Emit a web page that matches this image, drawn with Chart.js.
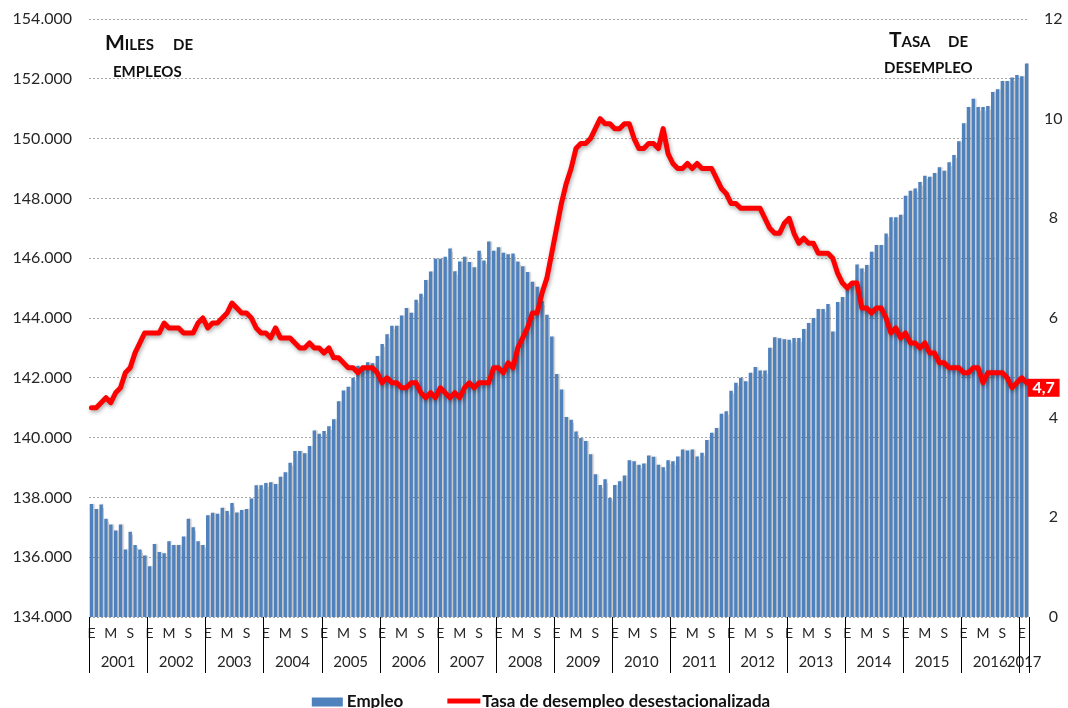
<!DOCTYPE html>
<html lang="es">
<head>
<meta charset="UTF-8">
<title>Empleo y tasa de desempleo</title>
<script src="https://cdn.jsdelivr.net/npm/chart.js"></script>
<style>
  html, body { margin: 0; padding: 0; background: #fff; }
  #wrap { width: 1068px; height: 708px; }
</style>
</head>
<body>
<div id="wrap"><canvas id="chart" width="1068" height="708"></canvas></div>
<script>
// años y marcas de mes (E = enero, M = mayo, S = septiembre)
const years = ['2001','2002','2003','2004','2005','2006','2007','2008','2009',
               '2010','2011','2012','2013','2014','2015','2016','2017'];
const monthMarks = ['E','','','','M','','','','S','','',''];

// Empleo, miles (ene 2001 - feb 2017)
const empleo = [
  137776,137610,137765,137284,137094,136893,137094,136255,136849,136412,136255,136054,
  135696,136445,136177,136132,136535,136412,136412,136691,137284,137004,136535,136412,
  137407,137485,137452,137653,137541,137810,137497,137575,137610,137966,138403,138403,
  138481,138503,138447,138694,138839,139163,139555,139555,139477,139723,140237,140126,
  140222,140378,140614,141218,141577,141700,142002,142405,142405,142517,142484,142730,
  143133,143458,143738,143738,144085,144331,144175,144611,144813,145272,145552,145978,
  145978,146045,146325,145563,145888,146045,145877,145698,146246,145922,146560,146246,
  146370,146179,146134,146157,145888,145731,145541,145216,145048,144567,144107,143380,
  142123,141608,140690,140600,140208,139984,139884,139447,138775,138417,138607,137980,
  138417,138540,138730,139245,139211,139088,139133,139402,139357,139088,139010,139245,
  139211,139368,139604,139570,139604,139368,139492,139917,140163,140320,140801,140880,
  141563,141832,142000,141888,142168,142358,142246,142246,143008,143355,143321,143288,
  143272,143328,143328,143630,143832,144000,144302,144302,144470,143552,144538,144705,
  145008,145198,145792,145658,145769,146217,146441,146441,146822,147371,147371,147449,
  148087,148255,148334,148547,148759,148726,148849,149039,148927,149207,149454,149913,
  150517,151055,151335,151055,151055,151089,151559,151649,151929,151929,152041,152130,
  152085,152511
];

// Tasa de desempleo desestacionalizada, %
const tasa = [
  4.2,4.2,4.3,4.4,4.3,4.5,4.6,4.9,5.0,5.3,5.5,5.7,
  5.7,5.7,5.7,5.9,5.8,5.8,5.8,5.7,5.7,5.7,5.9,6.0,
  5.8,5.9,5.9,6.0,6.1,6.3,6.2,6.1,6.1,6.0,5.8,5.7,
  5.7,5.6,5.8,5.6,5.6,5.6,5.5,5.4,5.4,5.5,5.4,5.4,
  5.3,5.4,5.2,5.2,5.1,5.0,5.0,4.9,5.0,5.0,5.0,4.9,
  4.7,4.8,4.7,4.7,4.6,4.6,4.7,4.7,4.5,4.4,4.5,4.4,
  4.6,4.5,4.4,4.5,4.4,4.6,4.7,4.6,4.7,4.7,4.7,5.0,
  5.0,4.9,5.1,5.0,5.4,5.6,5.8,6.1,6.1,6.5,6.8,7.3,
  7.8,8.3,8.7,9.0,9.4,9.5,9.5,9.6,9.8,10.0,9.9,9.9,
  9.8,9.8,9.9,9.9,9.6,9.4,9.4,9.5,9.5,9.4,9.8,9.3,
  9.1,9.0,9.0,9.1,9.0,9.1,9.0,9.0,9.0,8.8,8.6,8.5,
  8.3,8.3,8.2,8.2,8.2,8.2,8.2,8.0,7.8,7.7,7.7,7.9,
  8.0,7.7,7.5,7.6,7.5,7.5,7.3,7.3,7.3,7.2,6.9,6.7,
  6.6,6.7,6.7,6.2,6.2,6.1,6.2,6.2,6.0,5.7,5.8,5.6,
  5.7,5.5,5.5,5.4,5.5,5.3,5.3,5.1,5.1,5.0,5.0,5.0,
  4.9,4.9,5.0,5.0,4.7,4.9,4.9,4.9,4.9,4.8,4.6,4.7,
  4.8,4.7
];

const FONT = 'Lato, "Open Sans", sans-serif';
const BLUE = '#4F81BD';
const RED = '#FF0000';

const labels = empleo.map((v, i) => years[Math.floor(i / 12)] + '-' + (i % 12 + 1));

function miles(v) {
  return String(v).replace(/\B(?=(\d{3})+(?!\d))/g, '.');
}

const extras = {
  id: 'extras',
  beforeDatasetDraw(chart, args) {
    const ctx = chart.ctx;
    ctx.save();
    if (args.index === 1) {
      ctx.shadowColor = 'rgba(0,0,0,0.35)';
      ctx.shadowBlur = 4;
      ctx.shadowOffsetX = 1;
      ctx.shadowOffsetY = 2;
    } else {
      ctx.shadowColor = 'rgba(0,0,0,0.22)';
      ctx.shadowBlur = 1.5;
      ctx.shadowOffsetX = 1.5;
    }
  },
  afterDatasetDraw(chart) {
    chart.ctx.restore();
  },
  afterDraw(chart) {
    const ctx = chart.ctx;
    const ca = chart.chartArea;
    const xs = chart.scales.x;
    const n = empleo.length;
    const step = xs.getPixelForValue(1) - xs.getPixelForValue(0);

    // separadores y etiquetas de año
    ctx.save();
    ctx.strokeStyle = '#000';
    ctx.lineWidth = 1;
    ctx.fillStyle = '#262626';
    ctx.font = '15px ' + FONT;
    ctx.textAlign = 'center';
    ctx.textBaseline = 'alphabetic';
    years.forEach((y, k) => {
      const a = xs.getPixelForValue(k * 12) - step / 2;
      const last = Math.min(k * 12 + 11, n - 1);
      const b = xs.getPixelForValue(last) + step / 2;
      ctx.beginPath();
      ctx.moveTo(Math.round(a) + 0.5, ca.bottom);
      ctx.lineTo(Math.round(a) + 0.5, ca.bottom + 56);
      ctx.stroke();
      ctx.fillText(y, (a + b) / 2, ca.bottom + 50);
    });
    const end = xs.getPixelForValue(n - 1) + step / 2;
    ctx.beginPath();
    ctx.moveTo(Math.round(end) + 0.5, ca.bottom);
    ctx.lineTo(Math.round(end) + 0.5, ca.bottom + 56);
    ctx.stroke();
    ctx.restore();

    // títulos de los ejes (versalitas)
    ctx.save();
    ctx.fillStyle = '#111';
    ctx.textAlign = 'left';
    ctx.textBaseline = 'alphabetic';
    const caps = (parts, x, y) => {
      let cx = x;
      parts.forEach(p => {
        ctx.font = 'bold ' + p[1] + 'px ' + FONT;
        ctx.fillText(p[0], cx, y);
        cx += ctx.measureText(p[0]).width;
      });
    };
    caps([['M', 21], ['ILES', 15]], ca.left + 16, 50);
    caps([['DE', 15]], ca.left + 84, 50);
    caps([['EMPLEOS', 15]], ca.left + 24, 77);
    caps([['T', 21], ['ASA', 15]], ca.right - 140, 47);
    caps([['DE', 15]], ca.right - 81, 47);
    caps([['DESEMPLEO', 15]], ca.right - 145, 73);
    ctx.restore();

    // último valor de la tasa
    const meta = chart.getDatasetMeta(1);
    const pt = meta.data[meta.data.length - 1];
    ctx.save();
    ctx.fillStyle = RED;
    ctx.fillRect(pt.x + 1, pt.y - 4, 32, 18);
    ctx.fillStyle = '#fff';
    ctx.font = 'bold 16px ' + FONT;
    ctx.textAlign = 'center';
    ctx.textBaseline = 'middle';
    ctx.fillText(String(tasa[tasa.length - 1]).replace('.', ','), pt.x + 17, pt.y + 5.5);
    ctx.restore();

    // leyenda
    ctx.save();
    ctx.font = 'bold 17px ' + FONT;
    ctx.textBaseline = 'alphabetic';
    ctx.textAlign = 'left';
    const t1 = chart.data.datasets[0].label;
    const t2 = chart.data.datasets[1].label;
    const w1 = ctx.measureText(t1).width;
    const w2 = ctx.measureText(t2).width;
    const total = 31 + 4 + w1 + 44 + 33 + 2 + w2;
    let lx = 541 - total / 2;
    const ly = 706.5;
    ctx.fillStyle = BLUE;
    ctx.fillRect(lx, ly - 9, 31, 9);
    lx += 35;
    ctx.fillStyle = '#111';
    ctx.fillText(t1, lx, ly);
    lx += w1 + 44;
    ctx.strokeStyle = RED;
    ctx.lineWidth = 5;
    ctx.beginPath();
    ctx.moveTo(lx, ly - 5.5);
    ctx.lineTo(lx + 33, ly - 5.5);
    ctx.stroke();
    lx += 35;
    ctx.fillText(t2, lx, ly);
    ctx.restore();
  }
};

new Chart(document.getElementById('chart'), {
  type: 'bar',
  data: {
    labels: labels,
    datasets: [
      {
        type: 'bar',
        label: 'Empleo',
        data: empleo,
        backgroundColor: BLUE,
        barPercentage: 0.7,
        categoryPercentage: 1.0,
        yAxisID: 'y',
        order: 2
      },
      {
        type: 'line',
        label: 'Tasa de desempleo desestacionalizada',
        data: tasa,
        borderColor: RED,
        borderWidth: 5,
        pointRadius: 0,
        tension: 0,
        borderJoinStyle: 'round',
        borderCapStyle: 'round',
        fill: false,
        yAxisID: 'y1',
        order: 1
      }
    ]
  },
  options: {
    responsive: false,
    animation: false,
    devicePixelRatio: 1,
    layout: { autoPadding: false, padding: { top: 19, left: 0, right: 0, bottom: 0 } },
    plugins: {
      legend: { display: false },
      tooltip: { enabled: false }
    },
    scales: {
      x: {
        grid: { display: false, drawTicks: false },
        border: { display: false },
        ticks: {
          autoSkip: false,
          maxRotation: 0,
          padding: 8,
          color: '#262626',
          font: { family: FONT, size: 14 },
          callback: (v, i) => monthMarks[i % 12]
        },
        afterFit: s => { s.height = 91; }
      },
      y: {
        position: 'left',
        min: 134000,
        max: 154000,
        grid: { color: '#a6a6a6', lineWidth: 1, drawTicks: true, tickLength: 15, tickColor: 'rgba(0,0,0,0)' },
        border: { display: false, dash: [2, 2] },
        ticks: {
          stepSize: 2000,
          padding: 2,
          color: '#262626',
          font: { family: FONT, size: 16 },
          callback: v => miles(v)
        },
        afterFit: s => { s.width = 89; }
      },
      y1: {
        position: 'right',
        min: 0,
        max: 12,
        grid: { display: false, drawTicks: true, tickLength: 13, tickColor: 'rgba(0,0,0,0)' },
        border: { display: false },
        ticks: {
          stepSize: 2,
          padding: 2,
          crossAlign: 'center',
          color: '#262626',
          font: { family: FONT, size: 16 }
        },
        afterFit: s => { s.width = 39; }
      }
    }
  },
  plugins: [extras]
});
</script>
</body>
</html>
